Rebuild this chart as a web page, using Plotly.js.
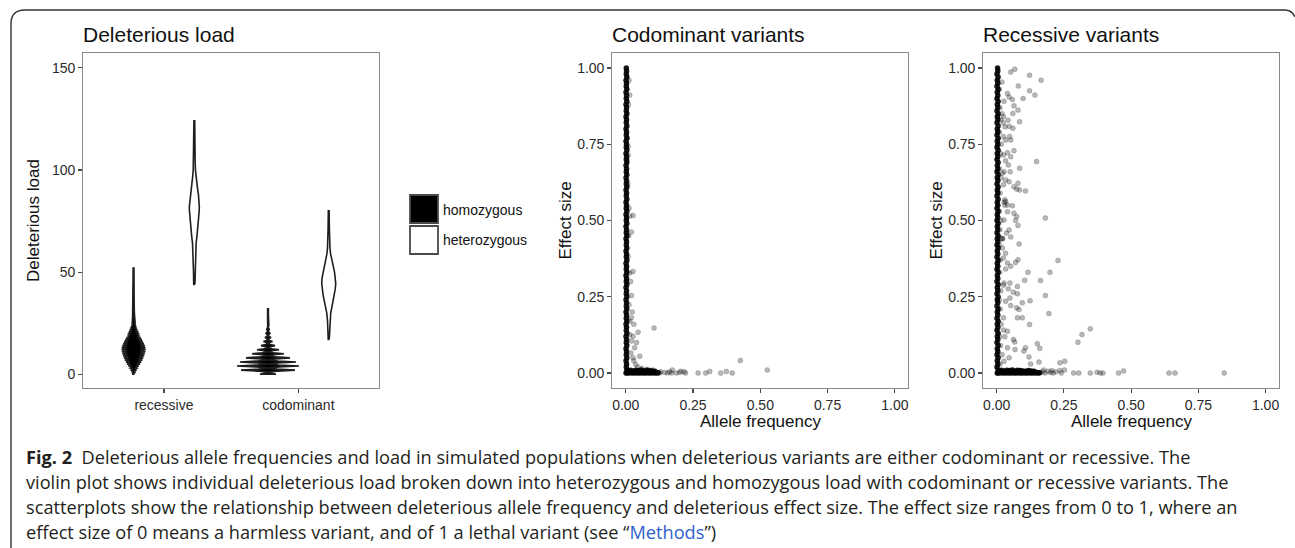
<!DOCTYPE html>
<html><head><meta charset="utf-8">
<script src="https://cdn.plot.ly/plotly-3.0.1.min.js"></script>
<style>html,body{margin:0;padding:0;background:#fff}#chart{width:1295px;height:548px}</style>
</head><body><div id="chart"></div>
<script>
// ---------- DATA ----------
const loadCategories = ['recessive', 'codominant'];
const zygosityLabels = ['homozygous', 'heterozygous'];
const loadTicks = [0, 50, 100, 150];
const freqTicks = [0, 0.25, 0.5, 0.75, 1];

// violin density profiles (load value, relative density)
const recHomLoad = [0,0.5,1,1.5,2,2.5,3,3.5,4,4.5,5,5.5,6,6.5,7,7.5,8,8.5,9,9.5,10,10.5,11,11.5,12,12.5,13,13.5,14,14.5,15,15.5,16,16.5,17,17.5,18,18.5,19,19.5,20,20.5,21,21.5,22,22.5,23,23.5,24,24.5,25,26,28,30,35,40,46,52];
const recHomDensity = [0.8,0.5,1.5,0.9,2.5,1.5,3.6,2.1,5,2.9,6.5,3.8,7.6,4.4,8.7,5.1,9.6,5.6,10.5,6.1,11.2,6.5,11.7,6.8,12,7,11.8,6.9,11.2,6.5,10.3,6,9.3,5.4,8.2,4.8,7,4.1,5.9,3.4,4.9,2.9,4,2.3,3.2,1.9,2.5,1.5,2,1.2,1.6,1.3,1,0.8,0.6,0.5,0.4,0.4];
const recHetLoad = [44,50,55,60,64,68,72,76,80,82,85,88,91,94,97,100,105,110,117,124];
const recHetDensity = [0.6,0.8,1,1.3,1.8,2.7,3.6,4.4,4.9,5,4.7,4.1,3.2,2.3,1.6,1.1,0.8,0.6,0.5,0.4];
const codHomLoad = [0,0.5,1,1.5,2,2.5,3,3.5,4,4.5,5,5.5,6,6.5,7,7.5,8,8.5,9,9.5,10,10.5,11,11.5,12,12.5,13,13.5,14,14.5,15,15.5,16,16.5,17,17.5,18,18.5,19,20,21,22,23,24,26,29,32];
const codHomDensity = [8,2.8,0.3,9.5,27,9.5,0.3,11,31,11,0.3,10,28,10,0.3,7.7,22,7.7,0.3,5.6,16,5.6,0.3,3.9,11,3.9,0.3,2.5,7,2.5,0.3,1.6,4.5,1.6,0.3,1.1,3,1.1,0.3,2,0.3,1.3,0.3,0.9,0.5,0.4,0.4];
const codHetLoad = [17,22,26,30,33,36,39,42,44.5,47,50,53,56,59,62,66,72,80];
const codHetDensity = [0.5,0.8,1.2,2,3.2,4.5,5.7,6.6,7,6.7,5.8,4.5,3,1.8,1.2,0.8,0.6,0.4];

// scatter: allele frequency vs effect size
const denseColumnEffect = [0,0.01,0.02,0.03,0.04,0.05,0.06,0.07,0.08,0.09,0.1,0.11,0.12,0.13,0.14,0.15,0.16,0.17,0.18,0.19,0.2,0.21,0.22,0.23,0.24,0.25,0.26,0.27,0.28,0.29,0.3,0.31,0.32,0.33,0.34,0.35,0.36,0.37,0.38,0.39,0.4,0.41,0.42,0.43,0.44,0.45,0.46,0.47,0.48,0.49,0.5,0.51,0.52,0.53,0.54,0.55,0.56,0.57,0.58,0.59,0.6,0.61,0.62,0.63,0.64,0.65,0.66,0.67,0.68,0.69,0.7,0.71,0.72,0.73,0.74,0.75,0.76,0.77,0.78,0.79,0.8,0.81,0.82,0.83,0.84,0.85,0.86,0.87,0.88,0.89,0.9,0.91,0.92,0.93,0.94,0.95,0.96,0.97,0.98,0.99,1];
const codomColumnFreq = [0.001,0.004,0.002,0.003,0.001,0.004,0.002,0.003,0.001,0.004,0.002,0.003,0.001,0.004,0.002,0.003,0.001,0.004,0.002,0.003,0.001,0.004,0.002,0.003,0.001,0.004,0.002,0.003,0.001,0.004,0.002,0.003,0.001,0.004,0.002,0.003,0.001,0.004,0.002,0.003,0.001,0.004,0.002,0.003,0.001,0.004,0.002,0.003,0.001,0.004,0.002,0.003,0.001,0.004,0.002,0.003,0.001,0.004,0.002,0.003,0.001,0.004,0.002,0.003,0.001,0.004,0.002,0.003,0.001,0.004,0.002,0.003,0.001,0.004,0.002,0.003,0.001,0.004,0.002,0.003,0.001,0.004,0.002,0.003,0.001,0.004,0.002,0.003,0.001,0.004,0.002,0.003,0.001,0.004,0.002,0.003,0.001,0.004,0.002,0.003,0.002];
const recColumnFreq = [0.002,0.005,0.001,0.004,0.002,0.005,0.001,0.004,0.002,0.005,0.001,0.004,0.002,0.005,0.001,0.004,0.002,0.005,0.001,0.004,0.002,0.005,0.001,0.004,0.002,0.005,0.001,0.004,0.002,0.005,0.001,0.004,0.002,0.005,0.001,0.004,0.002,0.005,0.001,0.004,0.002,0.005,0.001,0.004,0.002,0.005,0.001,0.004,0.002,0.005,0.001,0.004,0.002,0.005,0.001,0.004,0.002,0.005,0.001,0.004,0.002,0.005,0.001,0.004,0.002,0.005,0.001,0.004,0.002,0.005,0.001,0.004,0.002,0.005,0.001,0.004,0.002,0.005,0.001,0.004,0.002,0.005,0.001,0.004,0.002,0.005,0.001,0.004,0.002,0.005,0.001,0.004,0.002,0.005,0.001,0.004,0.002,0.005,0.001,0.004,0.003];

const codomRowFreq = [0.005,0.01,0.015,0.02,0.025,0.03,0.035,0.04,0.045,0.05,0.055,0.06,0.065,0.07,0.075,0.08,0.085,0.09,0.095,0.1,0.105,0.11,0.115,0.12,0.008,0.018,0.028,0.038,0.048,0.058,0.068,0.078,0.088,0.098,0.108];
const codomRowEffect = [0,0.002,0,0.004,0,0.002,0,0.003,0,0.002,0,0.004,0,0.002,0,0.003,0,0.002,0,0.004,0,0.002,0,0.001,0.008,0.009,0.007,0.009,0.008,0.01,0.007,0.009,0.008,0.007,0.006];
const recRowFreq = [0.005,0.01,0.015,0.02,0.025,0.03,0.035,0.04,0.045,0.05,0.055,0.06,0.065,0.07,0.075,0.08,0.085,0.09,0.095,0.1,0.105,0.11,0.115,0.12,0.125,0.13,0.135,0.14,0.145,0.15,0.155,0.16,0.008,0.018,0.028,0.038,0.048,0.058,0.068,0.078,0.088,0.098,0.108,0.118,0.128,0.138];
const recRowEffect = [0,0.002,0,0.004,0,0.002,0,0.003,0,0.002,0,0.004,0,0.002,0,0.003,0,0.002,0,0.004,0,0.002,0,0.003,0,0.002,0,0.004,0,0.002,0,0.001,0.008,0.009,0.007,0.009,0.008,0.01,0.007,0.009,0.008,0.007,0.006,0.008,0.007,0.006];

const codomSparseFreq = [0.015,0.005,0.009,0.009,0.005,0.012,0.015,0.027,0.021,0.009,0.015,0.027,0.021,0.012,0.021,0.015,0.046,0.105,0.015,0.027,0.021,0.033,0.019,0.052,0.027,0.037,0.426,0.526,0.269,0.297,0.312,0.353,0.374,0.396,0.126,0.145,0.163,0.173,0.188,0.2,0.217,0.222,0.13,0.155,0.17,0.205,0.012,0.01,0.008,0.011,0.018,0.024,0.03,0.04,0.03,0.045,0.06,0.08,0.1];
const codomSparseEffect = [0.911,0.772,0.742,0.715,0.699,0.54,0.515,0.516,0.462,0.382,0.328,0.333,0.254,0.224,0.181,0.17,0.134,0.148,0.126,0.121,0.105,0.083,0.066,0.055,0.05,0.028,0.041,0.01,0,0,0.005,0,0.005,0,0,0.002,0.004,0.01,0,0.002,0.004,0,0.004,0,0,0.006,0.96,0.88,0.62,0.45,0.3,0.2,0.16,0.1,0.04,0.02,0.015,0.012,0.01];

const recSparseFreq = [0.052,0.067,0.122,0.165,0.019,0.08,0.122,0.142,0.04,0.046,0.058,0.098,0.027,0.064,0.079,0.06,0.025,0.042,0.085,0.031,0.06,0.046,0.025,0.048,0.033,0.052,0.017,0.064,0.04,0.025,0.052,0.033,0.148,0.043,0.085,0.027,0.05,0.021,0.033,0.046,0.079,0.064,0.025,0.074,0.085,0.107,0.03,0.033,0.04,0.058,0.04,0.064,0.074,0.181,0.027,0.07,0.079,0.046,0.036,0.052,0.021,0.083,0.021,0.033,0.025,0.079,0.228,0.07,0.04,0.052,0.033,0.116,0.198,0.104,0.163,0.027,0.049,0.025,0.077,0.043,0.062,0.077,0.049,0.181,0.033,0.095,0.124,0.052,0.074,0.083,0.194,0.077,0.095,0.025,0.122,0.348,0.025,0.04,0.317,0.03,0.062,0.302,0.067,0.151,0.04,0.107,0.16,0.068,0.101,0.12,0.046,0.027,0.126,0.157,0.235,0.253,0.252,0.472,0.453,0.305,0.286,0.348,0.373,0.395,0.385,0.641,0.663,0.846];
const recSparseEffect = [0.987,0.996,0.976,0.96,0.954,0.941,0.925,0.911,0.916,0.905,0.897,0.9,0.891,0.876,0.862,0.851,0.84,0.829,0.824,0.807,0.802,0.809,0.775,0.775,0.764,0.764,0.75,0.729,0.722,0.715,0.709,0.696,0.693,0.682,0.671,0.66,0.66,0.655,0.633,0.627,0.622,0.611,0.617,0.603,0.6,0.597,0.568,0.562,0.551,0.548,0.529,0.524,0.513,0.508,0.502,0.5,0.484,0.469,0.459,0.446,0.442,0.423,0.41,0.393,0.377,0.371,0.369,0.362,0.361,0.35,0.341,0.33,0.33,0.304,0.303,0.295,0.295,0.288,0.284,0.276,0.265,0.26,0.246,0.254,0.235,0.23,0.237,0.221,0.214,0.208,0.195,0.181,0.181,0.181,0.159,0.145,0.141,0.137,0.126,0.119,0.11,0.101,0.102,0.096,0.083,0.083,0.081,0.077,0.072,0.053,0.05,0.039,0.03,0.036,0.034,0.039,0.01,0.0065,0,0,0,0,0.003,0,0,0,0,0];
const recHaloFreq = [0.01,0.012,0.015,0.01,0.014,0.01,0.016,0.012,0.01,0.015,0.012,0.017,0.01,0.013,0.011,0.015,0.01,0.013,0.016,0.011,0.014,0.02,0.012,0.03,0.028,0.022,0.024,0.02,0.17,0.18,0.19,0.2,0.21,0.22,0.235,0.24,0.175,0.205];
const recHaloEffect = [0.93,0.87,0.83,0.79,0.72,0.67,0.64,0.59,0.53,0.5,0.47,0.44,0.42,0.37,0.33,0.27,0.24,0.21,0.16,0.12,0.09,0.06,0.03,0.55,0.56,0.44,0.82,0.85,0.004,0,0.006,0.002,0,0.004,0.008,0,0.01,0.008];

const captionLines = [
  '<b>Fig. 2</b>&nbsp; Deleterious allele frequencies and load in simulated populations when deleterious variants are either codominant or recessive. The',
  'violin plot shows individual deleterious load broken down into heterozygous and homozygous load with codominant or recessive variants. The',
  'scatterplots show the relationship between deleterious allele frequency and deleterious effect size. The effect size ranges from 0 to 1, where an',
  'effect size of 0 means a harmless variant, and of 1 a lethal variant (see \u201c<span style="color:#2f5fd0">Methods</span>\u201d)'
];

// ---------- LAYOUT HELPERS ----------
const W = 1295, H = 548;
const px = x => x / W, py = y => 1 - y / H;
const FONT = 'Liberation Sans, Arial, Helvetica, sans-serif';
const dodge = 0.226;           // group offset in category units
const violinScale = 1 / 134.5; // density unit -> category units

function violinTrace(cat, side, loads, dens, fill) {
  const c = loadCategories.indexOf(cat) + (side === 'homozygous' ? -dodge : dodge);
  const xs = [], ys = [];
  for (let i = 0; i < loads.length; i++) { xs.push(c + dens[i] * violinScale); ys.push(loads[i]); }
  for (let i = loads.length - 1; i >= 0; i--) { xs.push(c - dens[i] * violinScale); ys.push(loads[i]); }
  xs.push(xs[0]); ys.push(ys[0]);
  return { type: 'scatter', mode: 'lines', x: xs, y: ys, fill: 'toself', fillcolor: fill,
    line: { color: '#1e1e1e', width: 1.6 }, name: side, showlegend: false, hoverinfo: 'skip', xaxis: 'x', yaxis: 'y' };
}
function pts(xs, ys, ax, dense) {
  return { type: 'scatter', mode: 'markers', x: xs, y: ys, xaxis: 'x' + ax, yaxis: 'y' + ax, showlegend: false,
    cliponaxis: false,
    marker: dense ? { size: 5.5, color: 'rgba(0,0,0,0.9)', line: { width: 0 } }
                  : { size: 5, color: 'rgba(0,0,0,0.28)', line: { width: 0.7, color: 'rgba(0,0,0,0.22)' } } };
}

const traces = [
  violinTrace('recessive', 'homozygous', recHomLoad, recHomDensity, '#000'),
  violinTrace('recessive', 'heterozygous', recHetLoad, recHetDensity, '#fff'),
  violinTrace('codominant', 'homozygous', codHomLoad, codHomDensity, '#000'),
  violinTrace('codominant', 'heterozygous', codHetLoad, codHetDensity, '#fff'),
  pts(codomSparseFreq, codomSparseEffect, '2', false),
  pts(codomColumnFreq, denseColumnEffect, '2', true),
  pts(codomRowFreq, codomRowEffect, '2', true),
  pts(recSparseFreq.concat(recHaloFreq), recSparseEffect.concat(recHaloEffect), '3', false),
  pts(recColumnFreq, denseColumnEffect, '3', true),
  pts(recRowFreq, recRowEffect, '3', true)
];

const axBase = { showline: true, mirror: true, linecolor: '#8a8a8a', linewidth: 1.1, ticks: 'outside', ticklen: 4,
  tickcolor: '#4a4a4a', tickwidth: 1.1, showgrid: false, zeroline: false, fixedrange: true,
  tickfont: { family: FONT, size: 14, color: '#2b2b2b' } };
const yDomain = [py(388.3), py(52.7)];
const freqAxis = Object.assign({}, axBase, { range: [-0.05, 1.05], tickvals: freqTicks, tickformat: '.2f' });

const layout = {
  width: W, height: H, margin: { l: 0, r: 0, t: 0, b: 0 }, paper_bgcolor: '#fff', plot_bgcolor: '#fff',
  showlegend: false,
  xaxis: Object.assign({}, axBase, { domain: [px(83.3), px(379)], range: [-0.6, 1.6], tickvals: [0, 1], ticktext: loadCategories, anchor: 'y' }),
  yaxis: Object.assign({}, axBase, { domain: yDomain, range: [-6.9, 157.4], tickvals: loadTicks, anchor: 'x' }),
  xaxis2: Object.assign({}, freqAxis, { domain: [px(612.3), px(908.3)], anchor: 'y2' }),
  yaxis2: Object.assign({}, freqAxis, { domain: yDomain, anchor: 'x2' }),
  xaxis3: Object.assign({}, freqAxis, { domain: [px(983.3), px(1279)], anchor: 'y3' }),
  yaxis3: Object.assign({}, freqAxis, { domain: yDomain, anchor: 'x3' }),
  shapes: [
    { type: 'path', xref: 'paper', yref: 'paper', line: { color: '#333', width: 1.4 },
      path: `M ${px(11)},${py(548)} L ${px(11)},${py(24)} Q ${px(11)},${py(10)} ${px(25)},${py(10)} L ${px(1285)},${py(10)} Q ${px(1292)},${py(10)} ${px(1295)},${py(17)}` },
    { type: 'rect', xref: 'paper', yref: 'paper', x0: px(410), x1: px(438), y0: py(223), y1: py(195), fillcolor: '#000', line: { color: '#4a4a4a', width: 1.8 } },
    { type: 'rect', xref: 'paper', yref: 'paper', x0: px(410), x1: px(438), y0: py(254), y1: py(226), fillcolor: '#fff', line: { color: '#4a4a4a', width: 1.8 } }
  ],
  annotations: []
};
function ann(text, x, y, opts) {
  layout.annotations.push(Object.assign({ text, xref: 'paper', yref: 'paper', x: px(x), y: py(y), showarrow: false,
    xanchor: 'left', yanchor: 'middle', font: { family: FONT, size: 17, color: '#111' } }, opts || {}));
}
ann('Deleterious load', 81, 35, { font: { family: FONT, size: 21, color: '#111' } });
ann('Codominant variants', 610, 35, { font: { family: FONT, size: 21, color: '#111' } });
ann('Recessive variants', 981, 35, { font: { family: FONT, size: 21, color: '#111' } });
ann('Deleterious load', 33.5, 220.5, { textangle: -90, xanchor: 'center' });
ann('Effect size', 565, 220.5, { textangle: -90, xanchor: 'center' });
ann('Effect size', 936, 220.5, { textangle: -90, xanchor: 'center' });
ann('Allele frequency', 760, 421, { xanchor: 'center' });
ann('Allele frequency', 1131, 421, { xanchor: 'center' });
ann(zygosityLabels[0], 441, 210, { font: { family: FONT, size: 14, color: '#111' } });
ann(zygosityLabels[1], 441, 240, { font: { family: FONT, size: 14, color: '#111' } });
const capY = [457, 482, 507, 532];
captionLines.forEach((t, i) => ann(t, 24, capY[i], { font: { family: 'Open Sans, Noto Sans, sans-serif', size: 18.2, color: '#231f20' } }));

Plotly.newPlot('chart', traces, layout, { staticPlot: true, displayModeBar: false });
</script></body></html>
